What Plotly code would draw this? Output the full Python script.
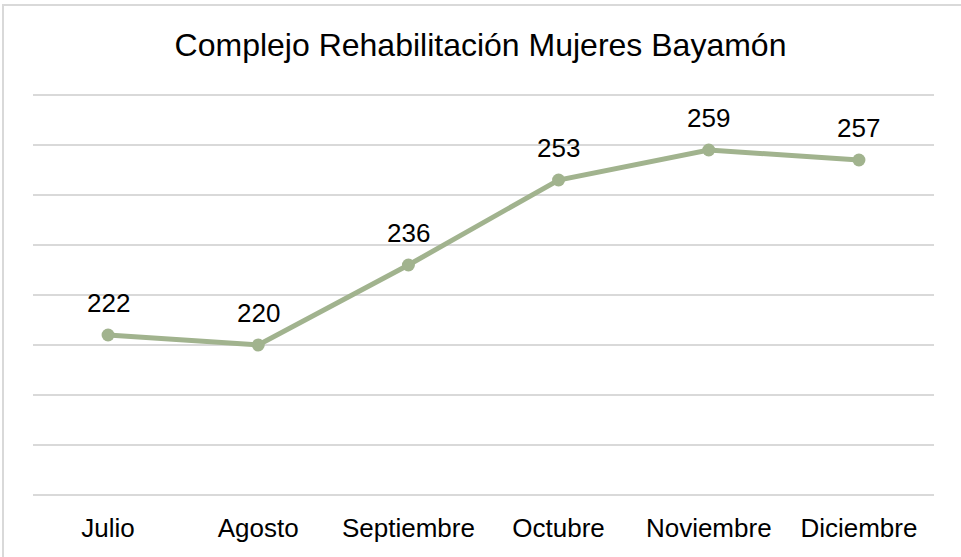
import plotly.graph_objects as go

months = ["Julio", "Agosto", "Septiembre", "Octubre", "Noviembre", "Diciembre"]
values = [222, 220, 236, 253, 259, 257]
title_text = "Complejo Rehabilitación Mujeres Bayamón"

LINE_COLOR = "#A1B38E"
GRID_COLOR = "#D9D9D9"
FONT = "Liberation Sans, Arial, sans-serif"

W, H = 961, 557
ML, MR, MT, MB = 33, 27, 93, 60
PW, PH = W - ML - MR, H - MT - MB

def px_to_paper_x(px):
    return (px - ML) / PW

def px_to_paper_y(py):
    return (H - MB - py) / PH

fig = go.Figure()
fig.add_trace(go.Scatter(
    x=months, y=values, mode="lines+markers",
    line=dict(color=LINE_COLOR, width=5),
    marker=dict(color=LINE_COLOR, size=13),
    hoverinfo="x+y", showlegend=False,
))

for m, v in zip(months, values):
    fig.add_annotation(x=m, y=v, text=str(v), showarrow=False,
                       yanchor="middle", yshift=32,
                       font=dict(family=FONT, size=26, color="#000000"))

fig.add_shape(type="rect", xref="paper", yref="paper",
              x0=px_to_paper_x(3), x1=px_to_paper_x(990),
              y0=px_to_paper_y(590), y1=px_to_paper_y(5),
              line=dict(color=GRID_COLOR, width=2), layer="below")

fig.update_layout(
    width=W, height=H,
    margin=dict(l=ML, r=MR, t=MT, b=MB),
    paper_bgcolor="white", plot_bgcolor="white",
    title=dict(text=title_text, x=0.5, xanchor="center", y=1 - 45 / H, yanchor="middle",
               font=dict(family=FONT, size=32, color="#000000")),
    xaxis=dict(type="category", showgrid=False, zeroline=False, showline=False,
               ticks="", ticklabelstandoff=13,
               tickfont=dict(family=FONT, size=26, color="#000000"),
               range=[-0.5, 5.5]),
    yaxis=dict(range=[189.6, 270.4], dtick=10, tick0=190, showgrid=True,
               gridcolor=GRID_COLOR, gridwidth=2, showticklabels=False,
               zeroline=False, showline=False, ticks=""),
    font=dict(family=FONT),
)

fig.write_html("out.html", config={"displayModeBar": False},
               post_script="document.body.style.margin='0';document.body.style.overflow='hidden';")
